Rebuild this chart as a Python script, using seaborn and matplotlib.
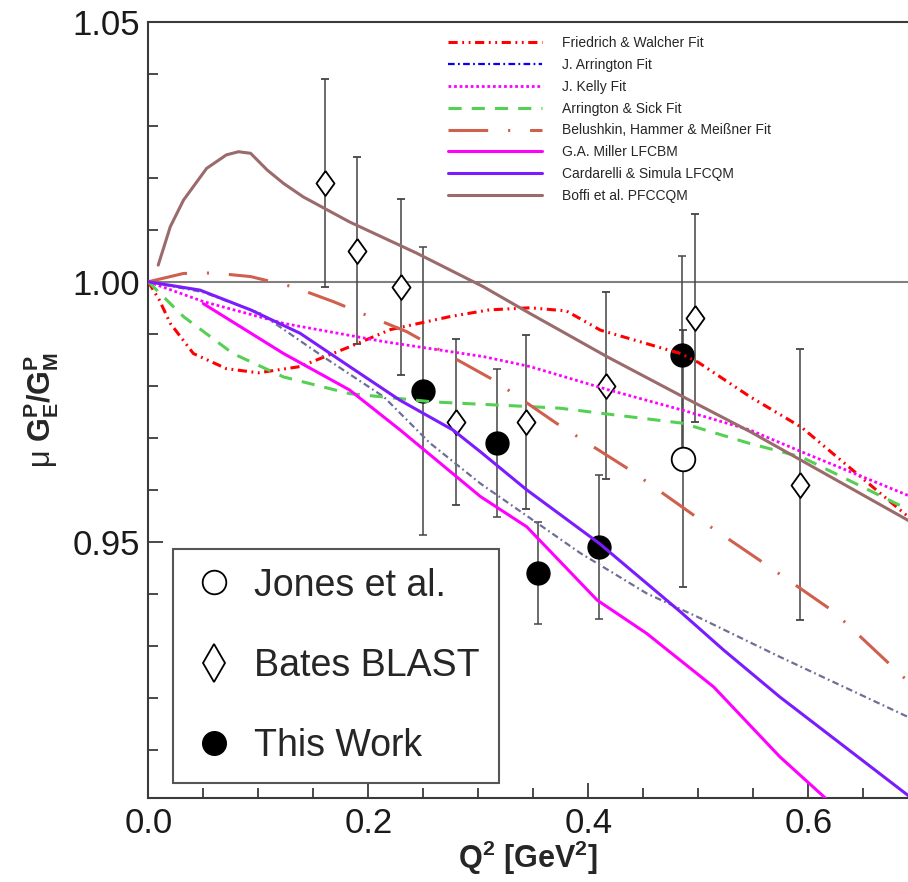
import matplotlib
matplotlib.use("Agg")
import matplotlib.pyplot as plt
from matplotlib.lines import Line2D
from matplotlib.ticker import MultipleLocator, FormatStrFormatter
import seaborn as sns

# --- data points ---
bates_q2 = [0.161, 0.190, 0.230, 0.280, 0.343, 0.416, 0.497, 0.592]
bates_ratio = [1.019, 1.006, 0.999, 0.973, 0.973, 0.980, 0.993, 0.961]
bates_err = [0.020, 0.018, 0.017, 0.016, 0.0167, 0.018, 0.020, 0.026]

this_q2 = [0.250, 0.317, 0.354, 0.410, 0.485]
this_ratio = [0.979, 0.969, 0.944, 0.949, 0.986]
this_err = [0.0277, 0.0142, 0.0098, 0.0138, 0.019]

jones_q2 = [0.486]
jones_ratio = [0.966]
jones_err = [0.0247]

# --- theory curves / fits ---
fw_q2 = [0.0, 0.01, 0.02, 0.041, 0.071, 0.10, 0.138, 0.183, 0.22, 0.274, 0.31, 0.347, 0.38, 0.411, 0.484, 0.50, 0.547, 0.594, 0.691]
fw_val = [1.0, 0.9965, 0.992, 0.9862, 0.9833, 0.9825, 0.9837, 0.9875, 0.9908, 0.9933, 0.9946, 0.9950, 0.9944, 0.9907, 0.9862, 0.9845, 0.9779, 0.9720, 0.9548]

ja_q2 = [0.0, 0.05, 0.102, 0.159, 0.214, 0.256, 0.302, 0.393, 0.453, 0.502, 0.574, 0.691]
ja_val = [1.0, 0.998, 0.9939, 0.9856, 0.9779, 0.9690, 0.9612, 0.9478, 0.9401, 0.9353, 0.9279, 0.9163]

jk_q2 = [0.0, 0.05, 0.123, 0.214, 0.305, 0.347, 0.417, 0.486, 0.547, 0.594, 0.691]
jk_val = [1.0, 0.9962, 0.9920, 0.9885, 0.9856, 0.9837, 0.9793, 0.9753, 0.9715, 0.9673, 0.9589]

as_q2 = [0.0, 0.032, 0.077, 0.123, 0.183, 0.259, 0.347, 0.374, 0.486, 0.547, 0.594, 0.691]
as_val = [1.0, 0.9933, 0.9862, 0.9817, 0.9785, 0.9769, 0.9760, 0.9757, 0.9728, 0.9689, 0.9663, 0.9562]

bhm_q2 = [0.0, 0.032, 0.059, 0.093, 0.132, 0.168, 0.235, 0.314, 0.371, 0.438, 0.502, 0.559, 0.623, 0.691]
bhm_val = [1.0, 1.0016, 1.0017, 1.0010, 0.9990, 0.9962, 0.9904, 0.9811, 0.9728, 0.9638, 0.9542, 0.9460, 0.9366, 0.9231]

mil_q2 = [0.05, 0.123, 0.183, 0.229, 0.302, 0.344, 0.408, 0.453, 0.514, 0.574, 0.622]
mil_val = [0.9958, 0.9862, 0.9792, 0.9715, 0.9587, 0.9529, 0.9388, 0.9324, 0.9221, 0.9087, 0.8995]

cs_q2 = [0.0, 0.047, 0.093, 0.138, 0.183, 0.229, 0.277, 0.302, 0.344, 0.410, 0.484, 0.523, 0.574, 0.691]
cs_val = [1.0, 0.9984, 0.9946, 0.9901, 0.9837, 0.9772, 0.9715, 0.9673, 0.9600, 0.9497, 0.9365, 0.9292, 0.9202, 0.9012]

bo_q2 = [0.009, 0.020, 0.032, 0.053, 0.071, 0.082, 0.093, 0.108, 0.123, 0.141, 0.183, 0.244, 0.305, 0.347, 0.417, 0.486, 0.547, 0.691]
bo_val = [1.0032, 1.0106, 1.0157, 1.0218, 1.0244, 1.0250, 1.0247, 1.0215, 1.0189, 1.0163, 1.0115, 1.0055, 0.9990, 0.9939, 0.9856, 0.9779, 0.9712, 0.9541]

sns.set_theme(style="ticks")
plt.rcParams["font.family"] = ["Liberation Sans", "DejaVu Sans"]
plt.rcParams["mathtext.fontset"] = "custom"
plt.rcParams["mathtext.rm"] = "Liberation Sans"
plt.rcParams["mathtext.bf"] = "Liberation Sans:bold"
plt.rcParams["mathtext.it"] = "Liberation Sans:italic"
plt.rcParams["mathtext.sf"] = "Liberation Sans"

fig = plt.figure(figsize=(9.08, 8.82), dpi=100)
ax = fig.add_axes([148.3 / 908, (882 - 798.3) / 882, (908 - 148.3) / 908, (798.3 - 21.7) / 882])

ax.axhline(1.0, color="#808080", lw=1.5, zorder=1)

# data with error bars
ek = dict(ecolor="#444444", elinewidth=1.1, capsize=3, capthick=1.1, zorder=2, ls="none")
ax.errorbar(jones_q2, jones_ratio, yerr=jones_err, marker="o", ms=17, mfc="white", mec="black", mew=1.3, **ek)
diamond = [(0, 1), (0.72, 0), (0, -1), (-0.72, 0), (0, 1)]
ax.errorbar(bates_q2, bates_ratio, yerr=bates_err, marker=diamond, ms=18, mfc="white", mec="black", mew=1.3, **ek)
ax.errorbar(this_q2, this_ratio, yerr=this_err, marker="o", ms=16.5, mfc="black", mec="black", **ek)

curves = [
    ("Friedrich & Walcher Fit", fw_q2, fw_val, "#ff0000", 2.2, (0, (3, 1.5, 0.6, 1.5, 0.6, 1.5))),
    ("J. Arrington Fit", ja_q2, ja_val, "#6f6f96", 1.6, (0, (3, 1.5, 0.8, 1.5))),
    ("J. Kelly Fit", jk_q2, jk_val, "#ff00ff", 2.0, (0, (1, 1))),
    ("Arrington & Sick Fit", as_q2, as_val, "#55d055", 2.2, (0, (4.3, 3.3))),
    ("Belushkin, Hammer & Meißner Fit", bhm_q2, bhm_val, "#d0604e", 2.2, (0, (13, 6.5, 0.7, 6.5))),
    ("G.A. Miller LFCBM", mil_q2, mil_val, "#ff00ff", 2.2, "-"),
    ("Cardarelli & Simula LFCQM", cs_q2, cs_val, "#7b1cff", 2.2, "-"),
    ("Boffi et al. PFCCQM", bo_q2, bo_val, "#9b6a6a", 2.2, "-"),
]
handles = []
for name, q, v, c, lw, ls in curves:
    sns.lineplot(x=q, y=v, ax=ax, color=c, lw=lw, linestyle=ls, sort=False, estimator=None, legend=False, zorder=3)
    hc = "#0000ff" if name == "J. Arrington Fit" else c
    handles.append(Line2D([], [], color=hc, lw=lw, linestyle=ls, label=name))

ax.set_xlim(0, 0.6906)
ax.set_ylim(0.9007, 1.05)
ax.xaxis.set_major_locator(MultipleLocator(0.2))
ax.xaxis.set_minor_locator(MultipleLocator(0.05))
ax.yaxis.set_major_locator(MultipleLocator(0.05))
ax.yaxis.set_minor_locator(MultipleLocator(0.01))
ax.xaxis.set_major_formatter(FormatStrFormatter("%.1f"))
ax.yaxis.set_major_formatter(FormatStrFormatter("%.2f"))
ax.tick_params(which="both", direction="in", color="#3a3a3a", width=1.3, top=False, right=False,
               labelsize=25, labelcolor="#1a1a1a")
ax.tick_params(which="major", length=11, pad=6)
ax.tick_params(which="minor", length=7.5)
for s in ["left", "bottom", "top"]:
    ax.spines[s].set_color("#3a3a3a")
    ax.spines[s].set_linewidth(1.5)
ax.spines["right"].set_visible(False)

ax.set_xlabel(r"$\mathbf{Q^2\ [GeV^2]}$", fontsize=22, labelpad=-1)
ax.set_ylabel(r"μ $\mathbf{G_E^P/G_M^P}$", fontsize=22, labelpad=8)

leg1 = ax.legend(handles=handles, loc="upper left", bbox_to_anchor=(0.3945, 0.9816), frameon=False,
                 fontsize=10, handlelength=6.8, handletextpad=1.44, labelspacing=0.565,
                 borderpad=0, borderaxespad=0)
ax.add_artist(leg1)

dhandles = [
    Line2D([], [], ls="none", marker="o", ms=17, mfc="white", mec="black", mew=1.3, label="Jones et al."),
    Line2D([], [], ls="none", marker="d", ms=19, mfc="white", mec="black", mew=1.3, label="Bates BLAST"),
    Line2D([], [], ls="none", marker="o", ms=17, mfc="black", mec="black", label="This Work"),
]
leg2 = ax.legend(handles=dhandles, loc="lower left", bbox_to_anchor=(0.0325, 0.020), fontsize=27,
                 handlelength=1.17, handletextpad=0.5, labelspacing=1.18, borderpad=0.5,
                 borderaxespad=0, fancybox=False, framealpha=1, edgecolor="#555555")
leg2.get_frame().set_linewidth(1.5)
leg2.set_zorder(5)

fig.savefig("out.png", dpi=100)
